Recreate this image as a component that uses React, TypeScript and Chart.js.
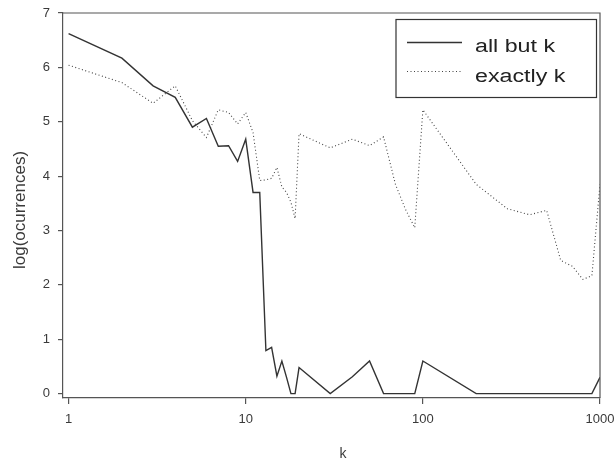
import React, { useEffect, useRef } from "react";
import { Chart, registerables } from "chart.js";

Chart.register(...registerables);

const K = [1, 2, 3, 4, 5, 6, 7, 8, 9, 10, 11, 12, 13, 14, 15, 16, 17, 18, 19, 20, 30, 40, 50, 60, 70, 80, 90, 100, 200, 300, 400, 500, 600, 700, 800, 900, 1000];
const allButK = [6.62, 6.17, 5.66, 5.45, 4.9, 5.06, 4.55, 4.56, 4.27, 4.68, 3.7, 3.7, 0.79, 0.85, 0.32, 0.6, 0.3, 0, 0, 0.48, 0, 0.31, 0.6, 0, 0, 0, 0, 0.6, 0, 0, 0, 0, 0, 0, 0, 0, 0.3];
const exactlyK = [6.04, 5.72, 5.34, 5.66, 5.02, 4.71, 5.22, 5.17, 4.96, 5.17, 4.8, 3.92, 3.93, 3.96, 4.16, 3.8, 3.7, 3.52, 3.22, 4.78, 4.52, 4.68, 4.56, 4.72, 3.85, 3.38, 3.05, 5.22, 3.85, 3.4, 3.29, 3.37, 2.45, 2.34, 2.1, 2.17, 3.85];
const xTicks = [1, 10, 100, 1000];
const yTicks = [0, 1, 2, 3, 4, 5, 6, 7];
const seriesNames = ["all but k", "exactly k"];
const xTitle = "k";
const yTitle = "log(ocurrences)";

const FONT = "'Liberation Sans', Arial, sans-serif";
const TEXT = "#3a3a3a";
const AXIS = "#555555";

const decorPlugin = {
  id: "decor",
  afterDraw(chart: any) {
    const ctx = chart.ctx;
    const a = chart.chartArea;
    ctx.save();
    // frame top and right
    ctx.strokeStyle = AXIS;
    ctx.lineWidth = 1.2;
    ctx.beginPath();
    ctx.moveTo(a.left, a.top);
    ctx.lineTo(a.right, a.top);
    ctx.lineTo(a.right, a.bottom);
    ctx.stroke();

    // legend box
    const bx = 396, by = 19.5, bw = 200.5, bh = 78;
    ctx.strokeStyle = "#333";
    ctx.lineWidth = 1.2;
    ctx.fillStyle = "#fff";
    ctx.fillRect(bx, by, bw, bh);
    ctx.strokeRect(bx, by, bw, bh);
    // samples
    ctx.strokeStyle = "#333";
    ctx.lineWidth = 1.4;
    ctx.setLineDash([]);
    ctx.beginPath();
    ctx.moveTo(407, 42.5);
    ctx.lineTo(462, 42.5);
    ctx.stroke();
    ctx.strokeStyle = "#444";
    ctx.lineWidth = 1.1;
    ctx.setLineDash([1, 2.5]);
    ctx.beginPath();
    ctx.moveTo(407, 71.5);
    ctx.lineTo(462, 71.5);
    ctx.stroke();
    ctx.setLineDash([]);
    // legend labels
    ctx.fillStyle = "#222";
    ctx.font = `18px ${FONT}`;
    ctx.textAlign = "left";
    ctx.textBaseline = "alphabetic";
    const rows = [52.3, 81.5];
    seriesNames.forEach((n, i) => {
      ctx.save();
      ctx.translate(475, rows[i]);
      ctx.scale(1.29, 1);
      ctx.fillText(n, 0, 0);
      ctx.restore();
    });

    // axis titles
    ctx.fillStyle = TEXT;
    ctx.font = `14px ${FONT}`;
    ctx.textAlign = "center";
    ctx.textBaseline = "alphabetic";
    ctx.fillText(xTitle, 343, 458);

    ctx.save();
    ctx.translate(20, 210);
    ctx.rotate(-Math.PI / 2);
    ctx.font = `17px ${FONT}`;
    ctx.textBaseline = "middle";
    ctx.fillText(yTitle, 0, 0);
    ctx.restore();

    ctx.restore();
  },
};

export default function App() {
  const ref = useRef<HTMLCanvasElement | null>(null);
  useEffect(() => {
    if (!ref.current) return;
    const chart = new Chart(ref.current, {
      type: "line",
      data: {
        datasets: [
          {
            label: seriesNames[0],
            data: K.map((k, i) => ({ x: k, y: allButK[i] })),
            borderColor: "#333",
            borderWidth: 1.4,
            pointRadius: 0,
            tension: 0,
            fill: false,
          },
          {
            label: seriesNames[1],
            data: K.map((k, i) => ({ x: k, y: exactlyK[i] })),
            borderColor: "#444",
            borderWidth: 1.1,
            borderDash: [1, 2.5],
            pointRadius: 0,
            tension: 0,
            fill: false,
          },
        ],
      },
      options: {
        responsive: false,
        animation: false,
        devicePixelRatio: 1,
        layout: { padding: { top: 13, right: 14, left: 8, bottom: 0 } },
        plugins: { legend: { display: false }, tooltip: { enabled: false } },
        scales: {
          x: {
            type: "logarithmic",
            min: 0.93,
            max: 1000,
            afterBuildTicks: (s: any) => {
              s.ticks = xTicks.map((v) => ({ value: v }));
            },
            afterFit: (s: any) => {
              s.height = 63;
              s.paddingLeft = 0;
              s.paddingRight = 0;
            },
            ticks: {
              callback: (v: any) => String(v),
              autoSkip: false,
              maxRotation: 0,
              padding: 8,
              color: TEXT,
              font: { family: FONT, size: 13 },
            },
            grid: { display: true, drawOnChartArea: false, drawTicks: true, tickLength: 6, color: AXIS, lineWidth: 1.2 },
            border: { display: true, color: AXIS, width: 1.2 },
          },
          y: {
            type: "linear",
            min: -0.08,
            max: 7,
            afterBuildTicks: (s: any) => {
              s.ticks = yTicks.map((v) => ({ value: v }));
            },
            afterFit: (s: any) => {
              s.width = 55;
              s.paddingTop = 0;
              s.paddingBottom = 0;
            },
            ticks: {
              callback: (v: any) => String(v),
              autoSkip: false,
              padding: 8,
              color: TEXT,
              font: { family: FONT, size: 13 },
            },
            grid: { display: true, drawOnChartArea: false, drawTicks: true, tickLength: 5, color: AXIS, lineWidth: 1.2 },
            border: { display: true, color: AXIS, width: 1.2 },
          },
        },
      },
      plugins: [decorPlugin],
    } as any);
    return () => chart.destroy();
  }, []);
  return (
    <div style={{ position: "absolute", left: 0, top: 0, width: 614, height: 461, background: "#fff" }}>
      <canvas ref={ref} width={614} height={461} style={{ display: "block" }} />
    </div>
  );
}
